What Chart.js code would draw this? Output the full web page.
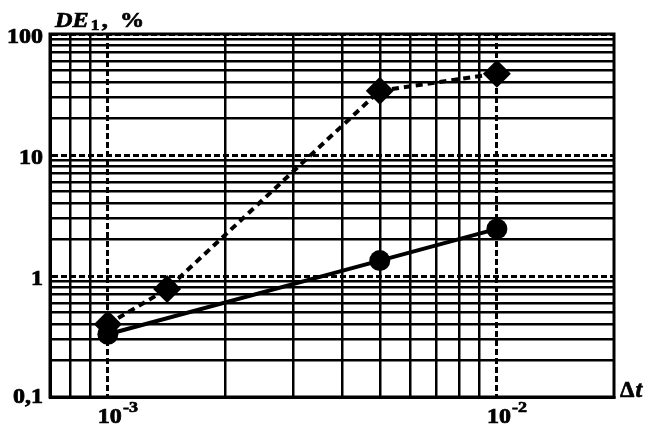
<!DOCTYPE html>
<html>
<head>
<meta charset="utf-8">
<script src="https://cdn.jsdelivr.net/npm/chart.js@4/dist/chart.umd.min.js"></script>
<style>
  body { margin: 0; background: #fff; }
  canvas { display: block; }
</style>
</head>
<body>
<canvas id="graphe" width="649" height="428"></canvas>
<script>
// donnees
let xDashed = [1e-3, 1.42e-3, 5e-3, 1e-2]
let yDashed = [0.4, 0.78, 34, 47]
let xSolid = [1e-3, 5e-3, 1e-2]
let ySolid = [0.33, 1.34, 2.45]

// graduations (grille)
let xTicks = [8e-4, 9e-4, 1e-3, 2e-3, 3e-3, 4e-3, 5e-3, 6e-3, 7e-3, 8e-3, 9e-3, 1e-2]
let yTicks = []
for (let d of [0.1, 1, 10]) {
  for (let s = 1; s <= 9; s++) yTicks.push(Math.round(s * d * 1000) / 1000)
}
yTicks.push(100)
let yLabels = { 100: "100", 10: "10", 1: "1", 0.1: "0,1" }
let xLabels = [[1e-3, "-3"], [1e-2, "-2"]]

function isDecade(v) {
  let l = Math.log10(v)
  return Math.abs(l - Math.round(l)) < 1e-6
}

const SERIF = "'Liberation Serif', 'Times New Roman', serif"

// texte un peu plus gras (fill + stroke fin)
function txt(ctx, s, x, y) {
  ctx.fillText(s, x, y)
  ctx.strokeText(s, x, y)
}

// cadre + textes
const decor = {
  id: 'decor',
  afterDraw(chart) {
    const ctx = chart.ctx
    const a = chart.chartArea
    const xs = chart.scales.x
    const ys = chart.scales.y
    ctx.save()
    ctx.strokeStyle = '#000'
    ctx.lineWidth = 3
    ctx.strokeRect(a.left, a.top, a.right - a.left, a.bottom - a.top)

    ctx.fillStyle = '#000'
    ctx.lineWidth = 0.7
    // etiquettes axe y
    ctx.textBaseline = 'alphabetic'
    ctx.textAlign = 'right'
    for (let v in yLabels) {
      let py = ys.getPixelForValue(parseFloat(v))
      ctx.save()
      ctx.translate(a.left - 7, Math.min(py + 9, 403))
      ctx.scale(1.2, 1)
      ctx.font = "bold 20px " + SERIF
      txt(ctx, yLabels[v], 0, 0)
      ctx.restore()
    }
    // etiquettes axe x : 10^-3 , 10^-2
    ctx.textAlign = 'left'
    for (let [v, e] of xLabels) {
      let px = xs.getPixelForValue(v)
      ctx.save()
      ctx.translate(px - 10, 423)
      ctx.scale(1.2, 1)
      ctx.font = "bold 20px " + SERIF
      txt(ctx, "10", 0, 0)
      let w = ctx.measureText("10").width
      ctx.font = "bold 15px " + SERIF
      txt(ctx, e, w + 1, -11)
      ctx.restore()
    }
    // titre axe y : DE1, %
    ctx.save()
    ctx.translate(55, 27)
    ctx.scale(1.15, 1)
    ctx.font = "italic bold 21px " + SERIF
    txt(ctx, "DE", 0, 0)
    let w1 = ctx.measureText("DE").width
    ctx.font = "bold 15px " + SERIF
    txt(ctx, "1", w1 + 2, 3)
    let w2 = ctx.measureText("1").width
    ctx.font = "bold 21px " + SERIF
    txt(ctx, ",  %", w1 + w2 + 4, 0)
    ctx.restore()
    // titre axe x : Δt
    ctx.save()
    ctx.translate(620, 397)
    ctx.font = "bold 23px " + SERIF
    txt(ctx, "Δ", 0, 0)
    let wd = ctx.measureText("Δ").width
    ctx.font = "italic bold 24px " + SERIF
    txt(ctx, "t", wd + 1, 0)
    ctx.restore()
    ctx.restore()
  }
}

const gridOpts = {
  color: '#000',
  lineWidth: (c) => (c.tick && isDecade(c.tick.value)) ? 3 : 2.5,
  drawTicks: false,
  tickLength: 0
}
const borderOpts = {
  color: '#000',
  width: 3,
  dash: (c) => (c.tick && isDecade(c.tick.value)) ? [6, 3] : []
}

new Chart(document.getElementById('graphe'), {
  type: 'line',
  data: {
    datasets: [
      {
        label: 'DE1 pointille',
        data: xDashed.map((x, i) => ({ x: x, y: yDashed[i] })),
        borderColor: '#000',
        backgroundColor: '#000',
        borderWidth: 4,
        borderDash: [7, 5],
        pointStyle: 'rectRot',
        pointRadius: 14,
        pointBorderWidth: 0
      },
      {
        label: 'DE1 continu',
        data: xSolid.map((x, i) => ({ x: x, y: ySolid[i] })),
        borderColor: '#000',
        backgroundColor: '#000',
        borderWidth: 4,
        pointStyle: 'circle',
        pointRadius: 10.5,
        pointBorderWidth: 0
      }
    ]
  },
  options: {
    responsive: false,
    animation: false,
    devicePixelRatio: 1,
    layout: { padding: { left: 50, right: 35, top: 34, bottom: 31 } },
    plugins: { legend: { display: false }, tooltip: { enabled: false } },
    scales: {
      x: {
        type: 'logarithmic',
        min: 7.1e-4,
        max: 2e-2,
        afterBuildTicks: (s) => { s.ticks = xTicks.map(v => ({ value: v })) },
        ticks: { display: false },
        grid: gridOpts,
        border: borderOpts
      },
      y: {
        type: 'logarithmic',
        min: 0.1,
        max: 100,
        afterBuildTicks: (s) => { s.ticks = yTicks.map(v => ({ value: v })) },
        ticks: { display: false },
        grid: gridOpts,
        border: borderOpts
      }
    }
  },
  plugins: [decor]
})
</script>
</body>
</html>
